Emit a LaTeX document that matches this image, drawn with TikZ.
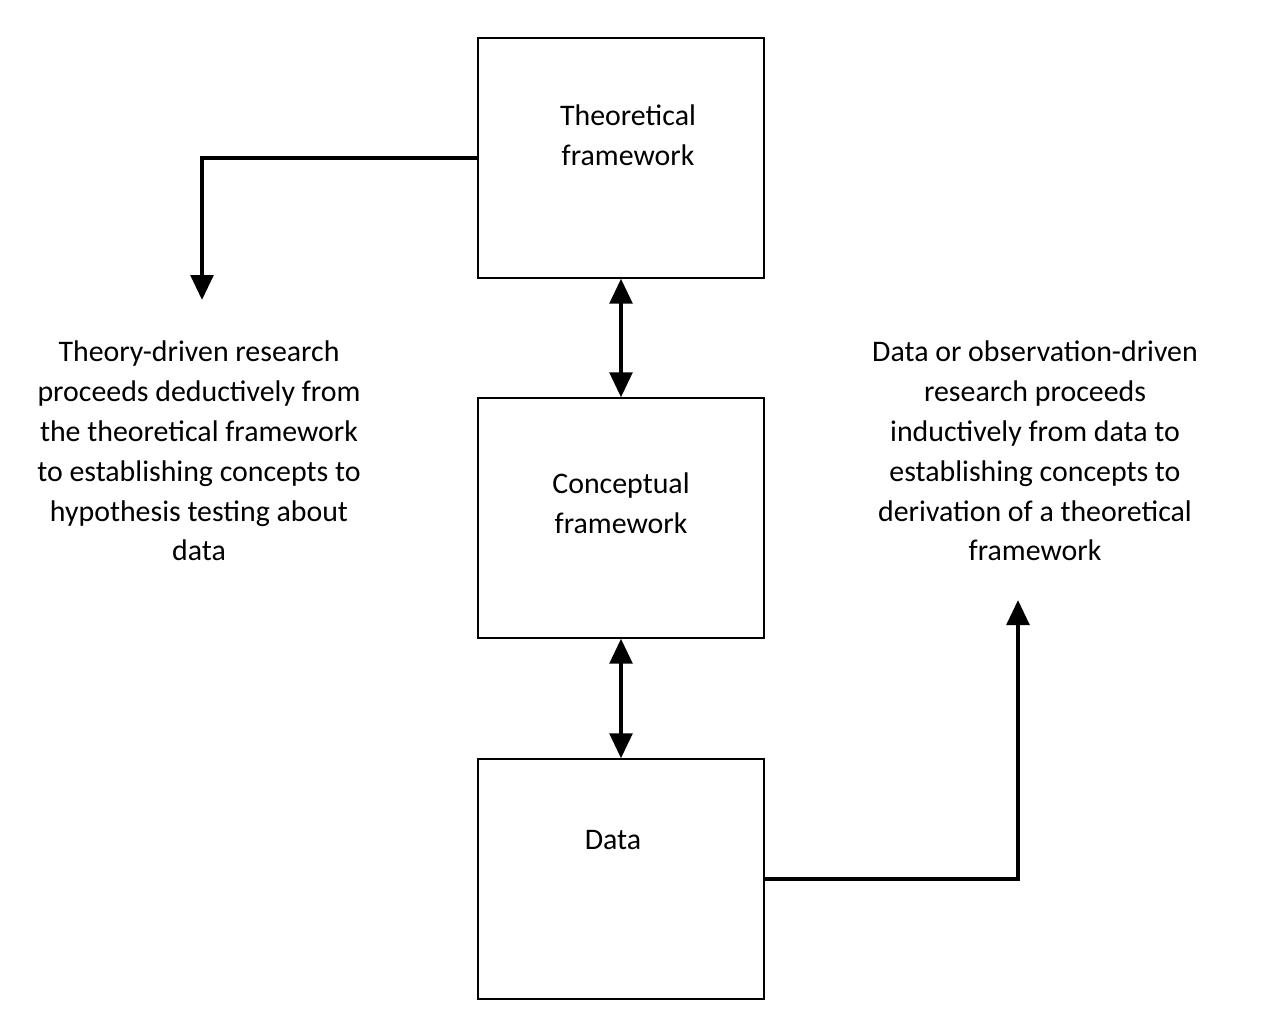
\documentclass[tikz,border=0pt]{standalone}
\usepackage{fontspec}
\setmainfont{Carlito}
\usetikzlibrary{arrows.meta,positioning}
\tikzset{
    box/.style={draw, line width=0.8pt, minimum width=5.72cm, minimum height=4.8cm, inner sep=0pt},
    flow/.style={line width=2.4pt, -{Triangle[length=0.5cm,width=0.45cm]}},
    both/.style={line width=2.4pt, {Triangle[length=0.5cm,width=0.45cm]}-{Triangle[length=0.5cm,width=0.45cm]}},
    note/.style={align=center, font=\fontsize{17}{22.7}\selectfont}
}
\begin{document}
\begin{tikzpicture}[x=0.02cm, y=-0.02cm]
    \useasboundingbox (0,0) rectangle (1276,1032);

    % Boxes
    \node[box] (theo) at (621,158) {};
    \node[box] (conc) at (621,518) {};
    \node[box] (data) at (621,879) {};
    \node[note] at (628,135) {Theoretical\\framework};
    \node[note] at (621,503) {Conceptual\\framework};
    \node[note] at (613,840) {Data};

    % Side notes
    \node[note] (deduct) at (199,451) {Theory-driven research\\proceeds deductively from\\the theoretical framework\\to establishing concepts to\\hypothesis testing about\\data};
    \node[note] (induct) at (1035,451) {Data or observation-driven\\research proceeds\\inductively from data to\\establishing concepts to\\derivation of a theoretical\\framework};

    % Connectors
    \coordinate (lend) at (202,300);
    \coordinate (rend) at (1018,600);
    \draw[flow] (theo.west) -| (lend);
    \draw[flow] (data.east) -| (rend);
    \draw[both] (theo.south) -- (conc.north);
    \draw[both] (conc.south) -- (data.north);
\end{tikzpicture}
\end{document}
